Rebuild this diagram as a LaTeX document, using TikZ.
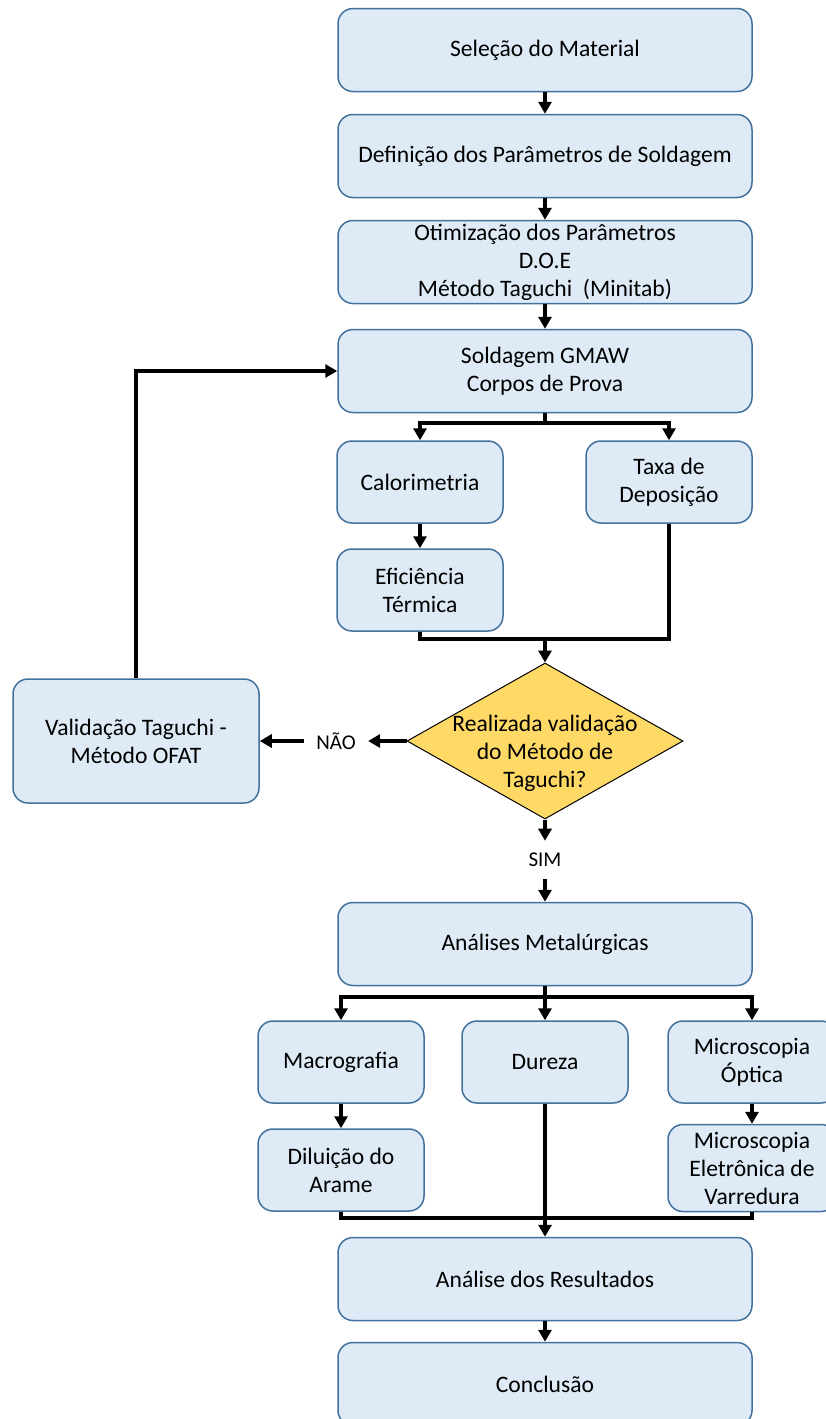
\documentclass[tikz,border=0pt]{standalone}
\usepackage{fontspec}
\setmainfont{Carlito}
\definecolor{BoxFill}{RGB}{222,235,247}
\definecolor{BoxLine}{RGB}{65,113,156}
\definecolor{DecFill}{RGB}{255,217,102}
\usepackage{tikz}
\usetikzlibrary{shapes.geometric,arrows.meta}

\begin{document}
\begin{tikzpicture}[x=0.5pt,y=-0.5pt]
				\tikzstyle{every node}=[font=\fontsize{11.8}{14}\selectfont];
				\tikzstyle{box}=[draw=BoxLine, fill=BoxFill, line width=0.75pt, rounded corners=7.5pt, align=center, inner sep=1pt];
				\tikzstyle{wide}=[box, minimum width=207pt, minimum height=41.5pt];
				\tikzstyle{small}=[box, minimum width=83pt, minimum height=41pt];
				\tikzstyle{decision}=[draw=black, fill=DecFill, shape=diamond, line width=0.5pt, minimum width=138pt, minimum height=78pt, inner sep=0pt];
				\tikzstyle{dectext}=[align=center, inner sep=0pt, yshift=-6pt];
				\tikzstyle{answer}=[font=\fontsize{10.5}{12}\selectfont, inner sep=6pt];
				\tikzstyle{flow}=[line width=2pt];
				\tikzstyle{arrow}=[flow, -{Triangle[width=6.5pt,length=6pt]}];
				\useasboundingbox (0,0) rectangle (825,1419);
				% main column
				\node [wide] (sel) at (545,50) {Seleção do Material};
				\node [wide] (def) at (545,156) {Definição dos Parâmetros de Soldagem};
				\node [wide] (oti) at (545,262) {Otimização dos Parâmetros\\D.O.E\\Método Taguchi~ (Minitab)};
				\node [wide] (sol) at (545,371) {Soldagem GMAW\\Corpos de Prova};
				\draw[arrow] (sel) -- (def);
				\draw[arrow] (def) -- (oti);
				\draw[arrow] (oti) -- (sol);
				% heat and deposition
				\node [small] (cal) at (420,482) {Calorimetria};
				\node [small] (tax) at (669,482) {Taxa de\\Deposição};
				\node [small] (efi) at (420,590) {Eficiência\\Térmica};
				\draw[arrow] (sol.south) -- ++(0,10) -| (cal.north);
				\draw[arrow] (sol.south) -- ++(0,10) -| (tax.north);
				\draw[arrow] (cal) -- (efi);
				\coordinate (j1) at (545,639);
				\draw[flow] (efi.south) |- (j1) -| (tax.south);
				% decision
				\node [decision, label={[dectext]center:Realizada validação\\do Método de\\Taguchi?}] (dec) at (545,741) {};
				\draw[arrow] (j1) -- (dec.north);
				\node [answer] (nao) at (336,741) {NÃO};
				\node [box, minimum width=123pt, minimum height=62pt] (val) at (136,741) {Validação Taguchi -\\Método OFAT};
				\draw[arrow] (dec.west) -- (nao);
				\draw[arrow] (nao) -- (val);
				\draw[arrow] (val.north) |- (sol.west);
				\node [answer] (sim) at (545,860) {SIM};
				\draw[arrow] (dec.south) -- (sim);
				% analyses
				\node [wide] (ana) at (545,944) {Análises Metalúrgicas};
				\draw[arrow] (sim) -- (ana);
				\node [small] (mac) at (341,1062) {Macrografia};
				\node [small] (dur) at (545,1062) {Dureza};
				\node [small, minimum width=84pt] (mop) at (752,1062) {Microscopia\\Óptica};
				\node [small] (dil) at (341,1170) {Diluição do\\Arame};
				\node [small, minimum width=84pt, minimum height=43.5pt] (mev) at (752,1168) {Microscopia\\Eletrônica de\\Varredura};
				\draw[arrow] (ana.south) -- ++(0,11) -| (mac.north);
				\draw[arrow] (ana) -- (dur);
				\draw[arrow] (ana.south) -- ++(0,11) -| (mop.north);
				\draw[arrow] (mac) -- (dil);
				\draw[arrow] (mop) -- (mev);
				\node [wide] (res) at (545,1279) {Análise dos Resultados};
				\node [wide] (con) at (545,1384) {Conclusão};
				\coordinate (j2) at (545,1218);
				\draw[flow] (dil.south) |- (j2) -| (mev.south);
				\draw[arrow] (dur.south) -- (res.north);
				\draw[arrow] (res) -- (con);
\end{tikzpicture}
\end{document}
